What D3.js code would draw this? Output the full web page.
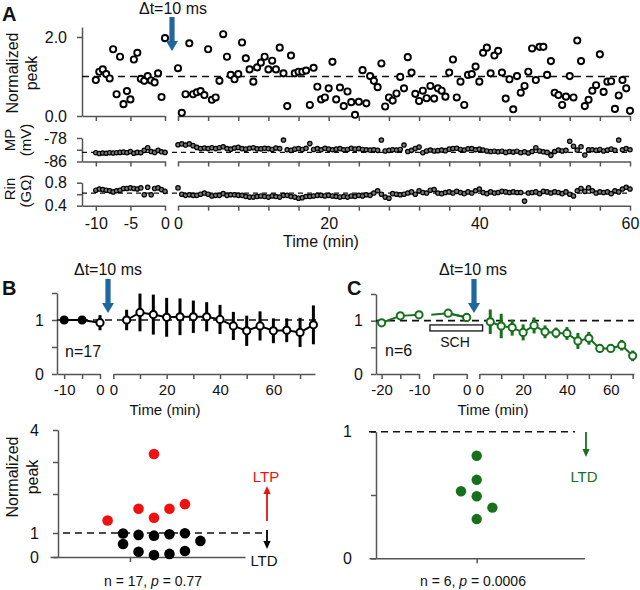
<!DOCTYPE html>
<html><head><meta charset="utf-8">
<script src="https://cdn.jsdelivr.net/npm/d3@7"></script>
<style>body{margin:0;background:#fff} svg{display:block} text{font-family:"Liberation Sans",Arial,sans-serif}</style>
</head><body><svg id="fig" width="640" height="590"></svg>
<script>
// ---------- Panel A data ----------
const aPreTime = d3.range(-10, 0.01, 0.5);
const aPrePeak = [0.91,1.12,1.18,1.06,0.95,1.69,0.55,1.50,0.30,0.63,0.42,1.43,1.60,0.94,0.89,1.01,0.90,0.85,1.08,0.48,1.97];
const aPostTime = d3.range(0, 60.01, 0.5);
const aPostPeak = [1.21,0.08,0.55,1.84,0.55,0.60,0.63,0.53,1.69,0.41,0.47,0.89,2.07,1.50,1.04,0.93,1.06,1.86,1.46,1.18,
 0.87,1.23,1.35,1.50,1.18,1.40,1.18,1.73,1.08,0.25,1.53,1.08,1.12,1.12,1.15,0.28,1.22,0.74,0.42,0.47,0.70,
 1.37,0.42,0.72,0.25,0.62,0.35,0.03,0.36,1.16,0.32,
 1.01,0.89,0.73,1.33,0.24,0.47,0.39,0.57,0.99,0.70,
 1.49,1.10,0.56,0.38,0.64,0.45,0.76,0.44,0.70,0.64,
 0.49,1.10,1.43,0.47,0.87,0.28,1.04,1.06,1.25,0.87,
 1.60,1.73,1.08,1.53,1.65,1.10,0.44,0.93,0.17,1.01,
 0.59,0.76,1.12,1.71,0.91,1.75,1.75,1.04,1.39,0.59,
 0.53,0.28,0.49,1.01,0.47,1.91,1.39,0.25,0.41,0.64,
 0.78,1.56,0.61,0.87,0.88,0.18,0.52,0.91,0.70,0.13];
const aPreMP = [-83.0,-83.3,-83.1,-83.2,-83.0,-83.1,-83.0,-82.9,-82.8,-83.0,-82.6,-83.2,-82.9,-83.0,-82.2,-81.3,-82.6,-82.9,-82.2,-82.7,-82.9];
const aPostMP = [-80.3,-80.0,-80.4,-80.0,-80.6,-81.2,-81.6,-81.4,-81.6,-81.3,
 -81.6,-81.3,-81.0,-81.6,-81.8,-81.4,-81.2,-81.6,-81.8,-81.5,
 -81.3,-81.7,-81.7,-81.5,-81.6,-81.9,-81.4,-81.6,-78.7,-82.0,
 -82.2,-81.8,-81.6,-81.9,-81.5,-79.9,-81.9,-81.6,-82.0,-81.5,-81.8,
 -82.0,-81.8,-81.6,-82.0,-81.9,-81.5,-81.8,-81.6,-81.9,-82.0,
 -82.1,-82.0,-82.2,-78.7,-82.4,-82.2,-82.0,-82.1,-81.9,-80.4,
 -82.6,-82.2,-81.6,-81.1,-83.0,-82.4,-82.1,-82.4,-82.3,-82.1,
 -82.3,-81.8,-81.6,-81.5,-81.9,-82.1,-81.7,-81.6,-82.0,-81.8,
 -82.1,-82.4,-82.6,-82.5,-82.7,-82.5,-82.9,-82.6,-82.8,-82.5,
 -83.0,-82.7,-83.1,-82.6,-81.3,-82.4,-82.7,-82.9,-83.9,-82.6,
 -82.1,-82.4,-82.2,-79.1,-80.8,-82.1,-81.0,-83.8,-82.0,-82.0,
 -82.2,-81.9,-82.4,-82.1,-81.8,-82.2,-78.7,-82.0,-81.6,-82.0];
const aPreRin = [0.67,0.69,0.68,0.67,0.66,0.64,0.66,0.67,0.70,0.70,0.71,0.70,0.69,0.71,0.59,0.72,0.59,0.70,0.71,0.68,0.65];
const aPostRin = [0.71,0.60,0.58,0.59,0.58,0.58,0.60,0.62,0.60,0.57,
 0.58,0.58,0.61,0.58,0.59,0.59,0.58,0.58,0.56,0.55,
 0.55,0.56,0.57,0.56,0.55,0.57,0.56,0.55,0.58,0.58,
 0.56,0.55,0.53,0.54,0.56,0.56,0.57,0.58,0.58,0.57,0.58,
 0.57,0.56,0.55,0.56,0.55,0.57,0.56,0.58,0.57,0.59,
 0.58,0.62,0.66,0.60,0.55,0.53,0.61,0.60,0.59,0.60,
 0.62,0.64,0.60,0.66,0.63,0.62,0.67,0.68,0.62,0.61,
 0.63,0.64,0.62,0.65,0.63,0.61,0.64,0.62,0.66,0.69,
 0.63,0.61,0.64,0.62,0.63,0.65,0.64,0.63,0.64,0.63,
 0.63,0.48,0.62,0.63,0.64,0.61,0.65,0.64,0.62,0.64,
 0.63,0.61,0.64,0.60,0.57,0.66,0.70,0.65,0.71,0.66,
 0.62,0.64,0.63,0.64,0.61,0.66,0.64,0.69,0.72,0.69];
const aMPBaseline = -82.9, aRinBaseline = 0.62;

// ---------- Panel B data ----------
const bPreTime = [-10,-5,0];
const bPreVal = [1.00,1.00,0.95];
const bPreErr = [0.02,0.02,0.14];
const bPostTime = [5,10,15,20,25,30,35,40,45,50,55,60,65,70,75];
const bPostVal = [1.00,1.14,1.10,1.05,1.06,1.06,1.06,1.01,0.89,0.80,0.89,0.80,0.81,0.77,0.91];
const bPostErr = [0.19,0.35,0.37,0.36,0.34,0.30,0.27,0.27,0.26,0.28,0.27,0.23,0.22,0.27,0.36];
const bCellVal = [1.32,1.62,3.25,1.39,1.62,1.74,0.98,0.92,0.89,0.95,0.99,0.54,0.67,0.22,0.08,0.13,0.25];
const bCellSlot = [-3,-1,0,0,1,2,-2,-1,0,1,2,-2,3,-1,0,1,2];

// ---------- Panel C data ----------
const cPreTime = [-20,-15,-10,-5,0];
const cPreVal = [0.96,1.09,1.11,1.14,1.06];
const cPreErr = [0.04,0.04,0.06,0.04,0.08];
const cPostTime = [5,10,15,20,25,30,35,40,45,50,55,60,65,70];
const cPostVal = [0.98,0.90,0.87,0.78,0.91,0.79,0.77,0.76,0.62,0.67,0.48,0.48,0.54,0.34];
const cPostErr = [0.23,0.23,0.15,0.15,0.15,0.12,0.10,0.12,0.15,0.12,0.05,0.05,0.10,0.10];
const cCellVal = [0.81,0.62,0.53,0.49,0.40,0.31];
const cCellSlot = [0,0,-1,0,1,0];

// ---------- drawing ----------
const svg = d3.select("#fig");
const AX = "#555", BLUE = "#1f679c", GREEN = "#17701c", RED = "#f01010";
const FONT = '"Liberation Sans", Arial, sans-serif';

function styleAxis(g, fs){
  g.attr("font-family", FONT).attr("font-size", fs);
  g.select(".domain").attr("stroke", AX).attr("stroke-width", 1.5);
  g.selectAll(".tick line").attr("stroke", AX).attr("stroke-width", 1.5);
  g.selectAll(".tick text").attr("fill", "#111");
}
function xAxis(scale, y, ticks, labeled, fs, pad){
  const g = svg.append("g").attr("transform", `translate(0,${y})`)
    .call(d3.axisBottom(scale).tickValues(ticks).tickSize(5).tickSizeOuter(0).tickPadding(pad || 6)
      .tickFormat(d => labeled.includes(d) ? String(d) : ""));
  styleAxis(g, fs);
  return g;
}
function yAxis(scale, x, ticks, labeled, fmt, fs, pad){
  const g = svg.append("g").attr("transform", `translate(${x},0)`)
    .call(d3.axisLeft(scale).tickValues(ticks).tickSize(5).tickSizeOuter(0).tickPadding(pad || 8)
      .tickFormat(d => labeled.includes(d) ? fmt(d) : ""));
  styleAxis(g, fs);
  return g;
}
function text(x, y, s, opts){
  opts = opts || {};
  const t = svg.append("text").attr("x", x).attr("y", y).text(s)
    .attr("font-family", FONT).attr("font-size", opts.fs || 16)
    .attr("text-anchor", opts.anchor || "middle").attr("fill", opts.fill || "#111");
  if (opts.bold) t.attr("font-weight", "bold");
  if (opts.rot) t.attr("transform", `rotate(-90,${x},${y})`);
  return t;
}
function dashed(x1, x2, y, dash, w){
  svg.append("line").attr("x1", x1).attr("x2", x2).attr("y1", y).attr("y2", y)
    .attr("stroke", "#111").attr("stroke-width", w || 1.6).attr("stroke-dasharray", dash || "7,5");
}
function bigArrow(x, y1, y2){
  const hw = 6, hl = 10, sw = 2.6;
  svg.append("path").attr("fill", BLUE)
    .attr("d", `M${x-sw},${y1}L${x+sw},${y1}L${x+sw},${y2-hl}L${x+hw},${y2-hl}L${x},${y2}L${x-hw},${y2-hl}L${x-sw},${y2-hl}Z`);
}
function smallArrow(x, yFrom, yTo, color){
  const dir = yTo > yFrom ? 1 : -1, hl = 8, hw = 3.6;
  svg.append("line").attr("x1", x).attr("x2", x).attr("y1", yFrom).attr("y2", yTo - dir*hl)
    .attr("stroke", color).attr("stroke-width", 1.8);
  svg.append("path").attr("fill", color)
    .attr("d", `M${x-hw},${yTo-dir*hl}L${x+hw},${yTo-dir*hl}L${x},${yTo}Z`);
}

// ===== Panel A =====
const xAPre = d3.scaleLinear().domain([-12, 0]).range([82, 165]);
const xAPost = d3.scaleLinear().domain([0, 60]).range([178, 630]);
const yPeak = d3.scaleLinear().domain([0, 2.25]).range([116, 27.1]);
const yMP = d3.scaleLinear().domain([-86, -78]).range([161.5, 138]);
const yRin = d3.scaleLinear().domain([0.4, 0.8]).range([205.7, 182.7]);
const postTicksA = d3.range(0, 60.01, 4);

text(2, 21, "A", {fs: 20, bold: true, anchor: "start"});
// Peak plot
yAxis(yPeak, 82, [0, 2], [0, 2], d3.format(".1f"), 16, 10);
xAxis(xAPre, 116, [-10, -5, 0], [], 16);
xAxis(xAPost, 116, postTicksA, [], 16);
dashed(82, 630, yPeak(1));
// MP plot
yAxis(yMP, 82, [-86, -82, -78], [-86, -78], d => String(d), 16, 10);
xAxis(xAPre, 161.5, [-10, -5, 0], [], 16);
xAxis(xAPost, 161.5, postTicksA, [], 16);
dashed(82, 630, yMP(aMPBaseline), "5,4", 1.2);
// Rin plot
yAxis(yRin, 82, [0.4, 0.6, 0.8], [0.4, 0.8], d3.format(".1f"), 16, 10);
xAxis(xAPre, 205.7, [-10, -5, 0], [-10, -5, 0], 16, 7);
xAxis(xAPost, 205.7, postTicksA, [0, 20, 40, 60], 16, 7);
dashed(82, 630, yRin(aRinBaseline), "5,4", 1.2);

function openPts(times, vals, xs, ys, r, sw, fill){
  svg.append("g").selectAll("circle").data(times).join("circle")
    .attr("cx", d => xs(d)).attr("cy", (d, i) => ys(vals[i])).attr("r", r)
    .attr("fill", fill).attr("stroke", "#000").attr("stroke-width", sw);
}
openPts(aPreTime, aPrePeak, xAPre, yPeak, 3.1, 1.9, "#fff");
openPts(aPostTime, aPostPeak, xAPost, yPeak, 3.1, 1.9, "#fff");
openPts(aPreTime, aPreMP, xAPre, yMP, 2.2, 1.2, "#777");
openPts(aPostTime, aPostMP, xAPost, yMP, 2.2, 1.2, "#777");
openPts(aPreTime, aPreRin, xAPre, yRin, 2.2, 1.2, "#777");
openPts(aPostTime, aPostRin, xAPost, yRin, 2.2, 1.2, "#777");

text(18, 73, "Normalized", {rot: true});
text(37, 73, "peak", {rot: true});
text(15, 140, "MP", {rot: true, fs: 15});
text(31, 140, "(mV)", {rot: true, fs: 15});
text(15, 189, "Rin", {rot: true, fs: 15});
text(31, 191, "(GΩ)", {rot: true, fs: 15});
text(321, 247, "Time (min)");
text(173, 14, "Δt=10 ms");
bigArrow(172, 17, 51);

// ===== Panel B (top) =====
const xBPre = d3.scaleLinear().domain([-12, 0]).range([57, 100]);
const xBPost = d3.scaleLinear().domain([0, 75.6]).range([113.3, 315]);
const yB = d3.scaleLinear().domain([0, 1.5]).range([374, 293]);
text(2, 295, "B", {fs: 20, bold: true, anchor: "start"});
yAxis(yB, 57, [0, 0.5, 1, 1.5], [0, 1], d => String(d), 16, 8);
xAxis(xBPre, 374, [-10, -5, 0], [-10, 0], 15, 5);
xAxis(xBPost, 374, d3.range(0, 71, 10), [0, 20, 40, 60], 15, 5);
dashed(57, 318, yB(1));

function timeSeries(times, vals, errs, xs, ys, color, r, fillFn){
  const g = svg.append("g");
  g.append("path").datum(times).attr("fill", "none").attr("stroke", color).attr("stroke-width", 2)
    .attr("d", d3.line().x(d => xs(d)).y((d, i) => ys(vals[i])));
  g.selectAll("line.err").data(times).join("line").attr("class", "err")
    .attr("x1", d => xs(d)).attr("x2", d => xs(d))
    .attr("y1", (d, i) => ys(vals[i] - errs[i])).attr("y2", (d, i) => ys(vals[i] + errs[i]))
    .attr("stroke", color).attr("stroke-width", 3);
  g.selectAll("circle").data(times).join("circle")
    .attr("cx", d => xs(d)).attr("cy", (d, i) => ys(vals[i])).attr("r", r)
    .attr("fill", (d, i) => fillFn(i)).attr("stroke", color).attr("stroke-width", 2);
  return g;
}
timeSeries(bPreTime, bPreVal, bPreErr, xBPre, yB, "#000", 3.6, i => bPreErr[i] < 0.05 ? "#000" : "#fff");
timeSeries(bPostTime, bPostVal, bPostErr, xBPost, yB, "#000", 3.6, () => "#fff");
text(65, 357, "n=17", {anchor: "start"});
text(165, 415, "Time (min)", {fs: 15});
text(108, 275, "Δt=10 ms");
bigArrow(108, 279, 313);

// ===== Panel C (top) =====
const xCPre1 = d3.scaleLinear().domain([-21.5, -10]).range([376, 419]);
const xCPre2 = d3.scaleLinear().domain([-9, 0]).range([433.3, 466.7]);
const xCPost = d3.scaleLinear().domain([0, 70.6]).range([479.3, 634]);
const yC = d3.scaleLinear().domain([0, 1.5]).range([374, 294]);
text(347, 295, "C", {fs: 20, bold: true, anchor: "start"});
yAxis(yC, 376, [0, 0.5, 1, 1.5], [0, 1], d => String(d), 16, 8);
xAxis(xCPre1, 374, [-20, -15, -10], [-20, -10], 15, 5);
xAxis(xCPre2, 374, [-9, 0], [0], 15, 5);
xAxis(xCPost, 374, d3.range(0, 71, 10), [0, 20, 40, 60], 15, 5);
dashed(376, 634, yC(1));
// SCH bar
svg.append("rect").attr("x", xCPre2(-9.9)).attr("y", yC(0.92)).attr("width", xCPost(1.5) - xCPre2(-9.9)).attr("height", 6)
  .attr("fill", "#fff").attr("stroke", "#222").attr("stroke-width", 1.4);
text(455, 347, "SCH", {fs: 14});
const seg1 = cPreTime.map((t, i) => i).filter(i => cPreTime[i] <= -10);
const seg2 = cPreTime.map((t, i) => i).filter(i => cPreTime[i] > -10);
timeSeries(seg1.map(i => cPreTime[i]), seg1.map(i => cPreVal[i]), seg1.map(i => cPreErr[i]), xCPre1, yC, GREEN, 3.6, () => "#fff");
svg.append("clipPath").attr("id", "clipC2").append("rect").attr("x", xCPre2.range()[0] - 2).attr("y", 280).attr("width", 40).attr("height", 100);
const contIdx = [seg1[seg1.length - 1]].concat(seg2);
svg.append("path").attr("clip-path", "url(#clipC2)").datum(contIdx).attr("fill", "none").attr("stroke", GREEN).attr("stroke-width", 2)
  .attr("d", d3.line().x(i => xCPre2(cPreTime[i])).y(i => yC(cPreVal[i])));
timeSeries(seg2.map(i => cPreTime[i]), seg2.map(i => cPreVal[i]), seg2.map(i => cPreErr[i]), xCPre2, yC, GREEN, 3.6, () => "#fff");
timeSeries(cPostTime, cPostVal, cPostErr, xCPost, yC, GREEN, 3.6, () => "#fff");
text(385, 356, "n=6", {anchor: "start"});
text(493, 415, "Time (min)", {fs: 15});
text(473, 275, "Δt=10 ms");
bigArrow(474, 279, 313);

// ===== Panel B (bottom) =====
const yBB = d3.scaleLinear().domain([0, 1, 2, 3, 4]).range([557, 533, 494, 462, 430]);
const slotB = d3.scaleLinear().domain([-3, 3]).range([154 - 46.4, 154 + 46.4]);
yAxis(yBB, 58, [0, 1, 2, 3, 4], [0, 1, 4], d => String(d), 16, 14);
svg.append("g").attr("transform", "translate(0,557)")
  .call(d3.axisBottom(d3.scaleLinear().domain([-4.1, 5.9]).range([50, 245])).tickValues([0]).tickSize(5).tickSizeOuter(0).tickFormat(""))
  .call(g => styleAxis(g, 16));
dashed(63, 267, yBB(1));
svg.append("g").selectAll("circle").data(bCellVal).join("circle")
  .attr("cx", (d, i) => slotB(bCellSlot[i])).attr("cy", d => yBB(d)).attr("r", 5.3)
  .attr("fill", d => d > 1 ? RED : "#000");
smallArrow(267, 521, 486, RED);
text(266, 482, "LTP", {fill: RED, fs: 15});
smallArrow(267, 530, 549, "#000");
text(264, 566, "LTD", {fs: 15});
text(18, 477, "Normalized", {rot: true});
text(38, 477, "peak", {rot: true});
const nb = text(153, 586, "", {fs: 14});
nb.append("tspan").text("n = 17, ");
nb.append("tspan").attr("font-style", "italic").text("p");
nb.append("tspan").text(" = 0.77");

// ===== Panel C (bottom) =====
const yCB = d3.scaleLinear().domain([0, 1]).range([558.3, 431.7]);
const slotC = d3.scaleLinear().domain([-1, 1]).range([476.7 - 15.7, 476.7 + 15.7]);
yAxis(yCB, 376, [0, 0.5, 1], [0, 1], d => String(d), 16, 19);
svg.append("g").attr("transform", "translate(0,558.3)")
  .call(d3.axisBottom(d3.scaleLinear().domain([-1, 1]).range([369, 584.4])).tickValues([0]).tickSize(5).tickSizeOuter(0).tickFormat(""))
  .call(g => styleAxis(g, 16));
dashed(369, 575, yCB(1));
svg.append("g").selectAll("circle").data(cCellVal).join("circle")
  .attr("cx", (d, i) => slotC(cCellSlot[i])).attr("cy", d => yCB(d)).attr("r", 5.2)
  .attr("fill", GREEN);
smallArrow(586, 432, 457, GREEN);
text(584, 482, "LTD", {fill: GREEN, fs: 15});
const nc = text(473, 586, "", {fs: 14});
nc.append("tspan").text("n = 6, ");
nc.append("tspan").attr("font-style", "italic").text("p");
nc.append("tspan").text(" = 0.0006");
</script></body></html>
